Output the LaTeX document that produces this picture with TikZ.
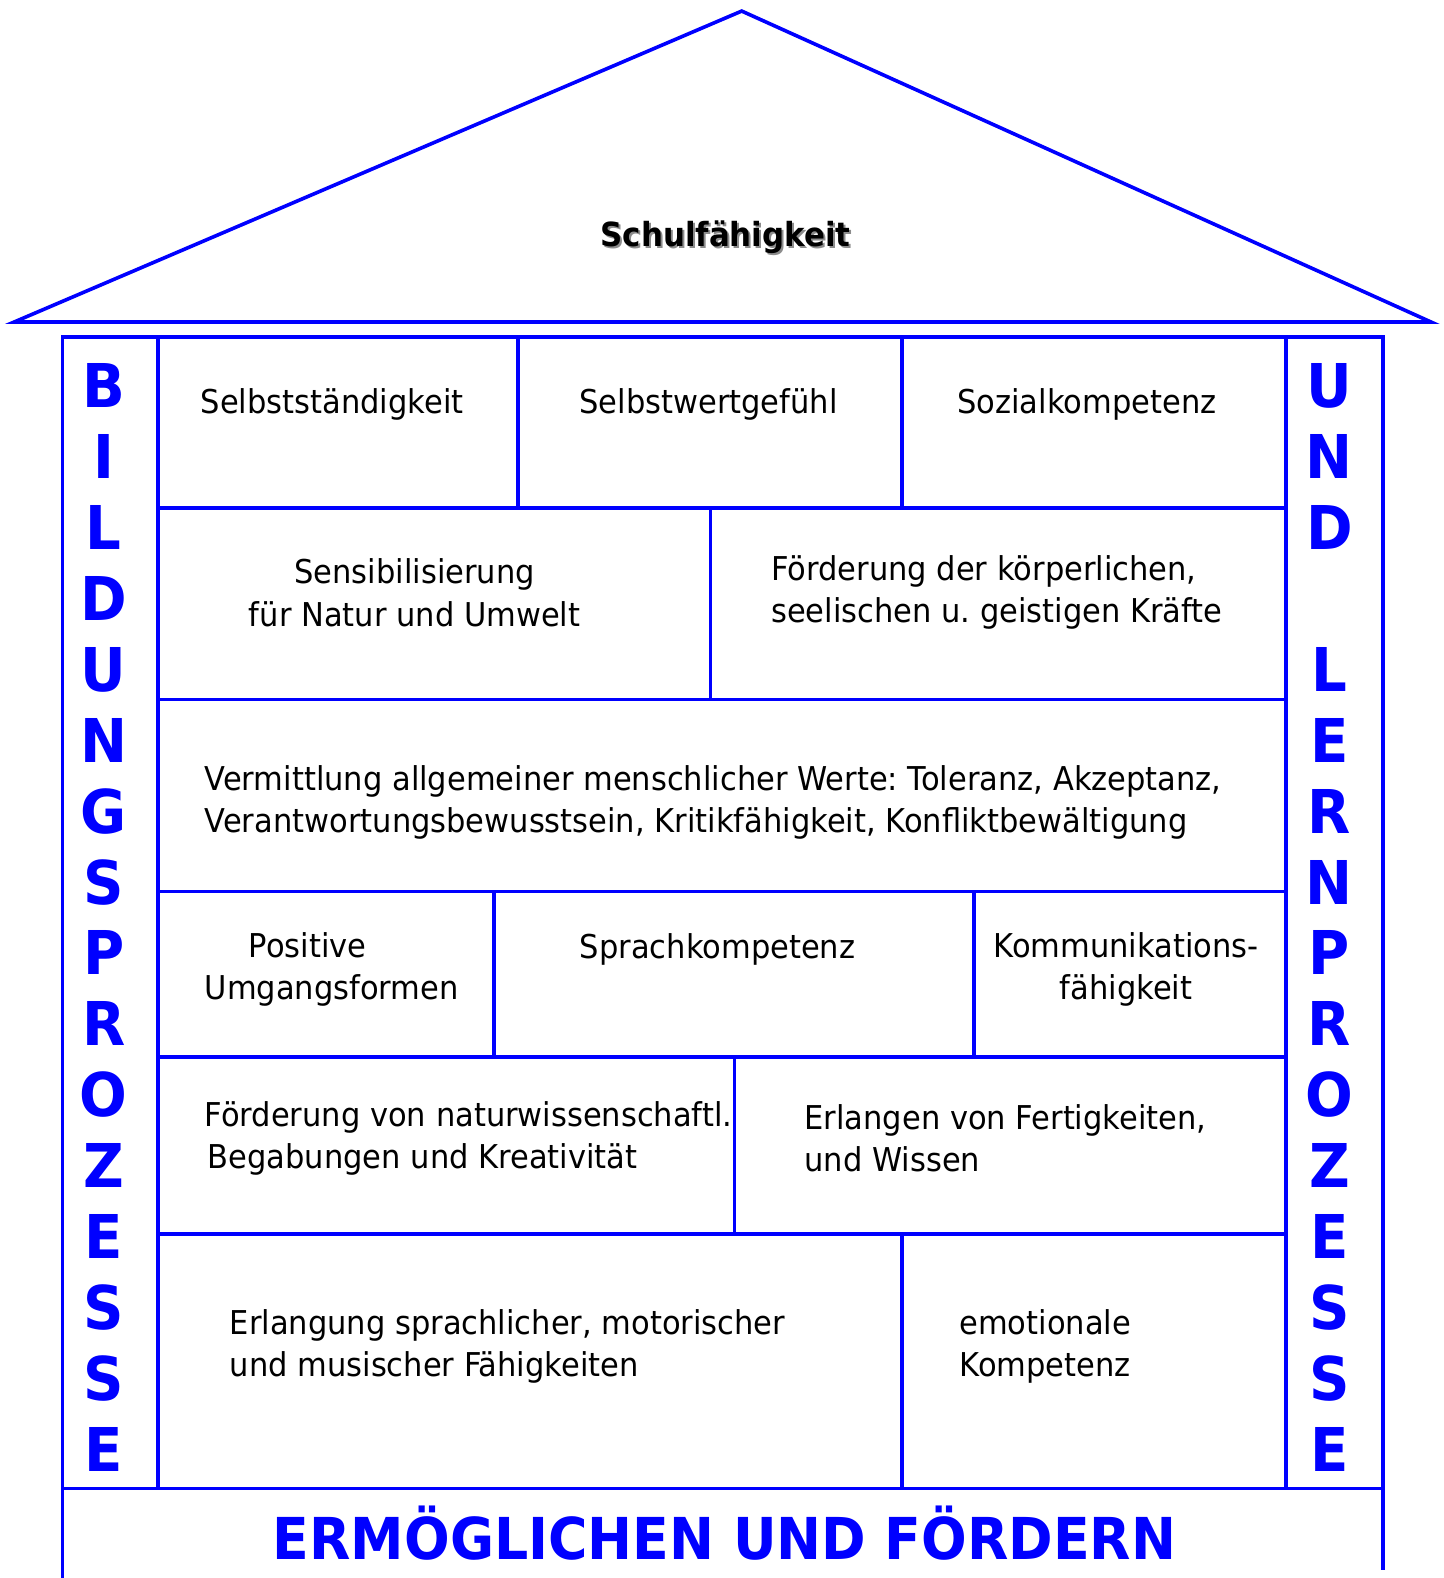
\documentclass[tikz,border=0pt]{standalone}
\usepackage{fontspec}
\setmainfont{DejaVu Sans}[FakeStretch=0.93]
\usetikzlibrary{positioning}
\tikzset{%
    wall/.style={draw=blue,line width=1.8pt},
    cell/.style={inner sep=0pt,font=\fontsize{16.3}{21}\selectfont},
    cellL/.style={cell,anchor=west,align=left},
    cellC/.style={cell,align=center},
    pillar/.style={inner sep=0pt,anchor=base,text=blue,font=\fontsize{30}{30}\selectfont\bfseries},
    sign/.style={inner sep=0pt,anchor=base,text=blue,font=\fontsize{28.7}{30}\selectfont\bfseries}
}

\begin{document}
\frenchspacing
\begin{tikzpicture}[x=0.5pt,y=-0.5pt]
            \useasboundingbox (0,0) rectangle (1434,1568);
            %%%%% dach
            \draw[wall] (14,320) -- (737,11) -- (1422,320) -- cycle;
            \node[inner sep=0pt,anchor=base,text=black!45,font=\fontsize{16.5}{17}\selectfont\bfseries] (titel-s) at (723,247) {Schulfähigkeit};
            \node[inner sep=0pt,anchor=base,font=\fontsize{16.5}{17}\selectfont\bfseries] (titel) at (721,245) {Schulfähigkeit};
            %%%%% haus
            \draw[wall] (62,1568) -- (62,335) -- (1374,335) -- (1374,1560);
            \draw[wall] (62,1479) -- (1374,1479);
            \draw[wall] (157,335) -- (157,1479);
            \draw[wall] (1278,335) -- (1278,1479);
            \foreach \y in {505,695,886,1050,1226}
              \draw[wall] (157,\y) -- (1278,\y);
            \draw[wall] (515,335) -- (515,505);
            \draw[wall] (896,335) -- (896,505);
            \draw[wall] (706,505) -- (706,695);
            \draw[wall] (491,886) -- (491,1050);
            \draw[wall] (968,886) -- (968,1050);
            \draw[wall] (730,1050) -- (730,1226);
            \draw[wall] (896,1226) -- (896,1479);
            %%%%% saeulen
            \foreach \c [count=\i from 0] in {B,I,L,D,U,N,G,S,P,R,O,Z,E,S,S,E}
              \node[pillar] (li-\i) at (103,405+70.47*\i) {\c};
            \foreach \c [count=\i from 0] in {U,N,D,{},L,E,R,N,P,R,O,Z,E,S,S,E}
              \node[pillar] (re-\i) at (1321,405+70.47*\i) {\c};
            %%%%% steine
            \node[cell] (selbst) at (330,402) {Selbstständigkeit};
            \node[cell] (wert) at (704,402) {Selbstwertgefühl};
            \node[cell] (sozial) at (1080,402) {Sozialkompetenz};
            \node[cellC] (natur) at (412,589) {Sensibilisierung\\für Natur und Umwelt};
            \node[cellL] (kraefte) at (766,589) {Förderung der körperlichen,\\seelischen u. geistigen Kräfte};
            \node[cellL] (werte) at (203,797) {Vermittlung allgemeiner menschlicher Werte: Toleranz, Akzeptanz,\\Verantwortungsbewusstsein, Kritikfähigkeit, Konfliktbewältigung};
            \node[cellL] (umgang) at (203,963) {\hspace*{22pt}Positive\\Umgangsformen};
            \node[cell] (sprache) at (713,943) {Sprachkompetenz};
            \node[cellC] (komm) at (1119,963) {Kommunikations-\\fähigkeit};
            \node[cellL] (begab) at (203,1131) {Förderung von naturwissenschaftl.\\\hspace*{1.5pt}Begabungen und Kreativität};
            \node[cellL] (wissen) at (799,1131) {Erlangen von Fertigkeiten,\\und Wissen};
            \node[cellL] (motor) at (228,1338) {Erlangung sprachlicher, motorischer\\und musischer Fähigkeiten};
            \node[cellL] (emo) at (953,1338) {emotionale\\Kompetenz};
            %%%%% fundament
            \node[sign] (fundament) at (720,1550) {ERMÖGLICHEN UND FÖRDERN};
\end{tikzpicture}
\end{document}
